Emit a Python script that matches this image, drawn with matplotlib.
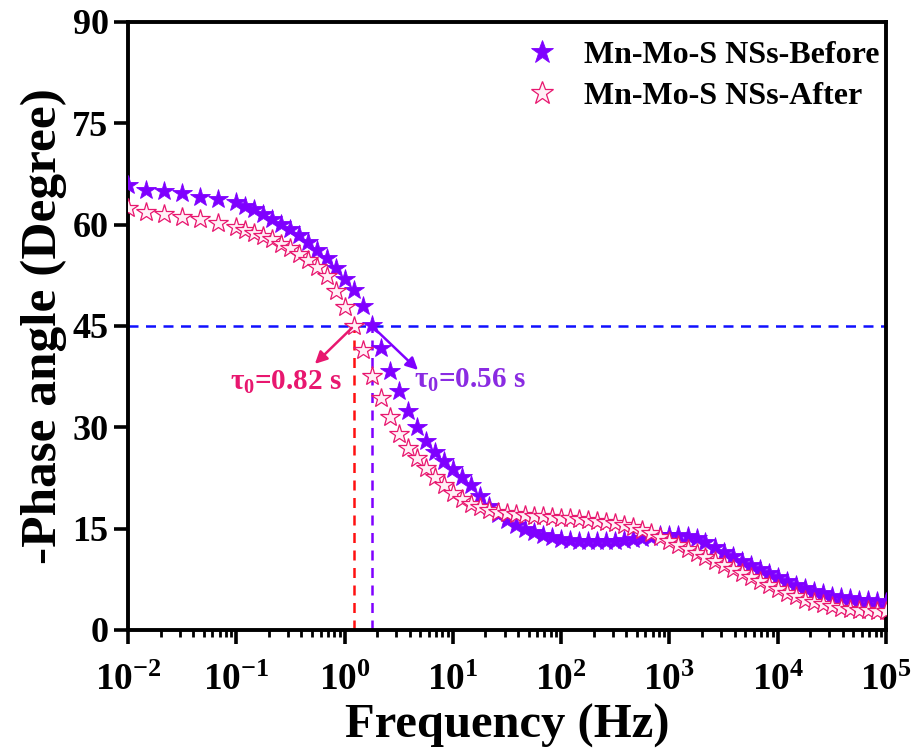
import matplotlib
matplotlib.use('Agg')
import matplotlib.pyplot as plt
from matplotlib.ticker import LogLocator, FixedLocator, NullFormatter

plt.rcParams['font.family'] = ['Liberation Serif', 'DejaVu Serif']
plt.rcParams['font.weight'] = 'bold'
plt.rcParams['mathtext.fontset'] = 'custom'
plt.rcParams['mathtext.rm'] = 'Liberation Serif:bold'
plt.rcParams['mathtext.it'] = 'Liberation Serif:bold'
plt.rcParams['mathtext.bf'] = 'Liberation Serif:bold'

# measured frequencies (Hz)
freq = [
	0.01, 0.0147, 0.0215, 0.0316, 0.0464, 0.0681,
	0.1, 0.121, 0.147, 0.178, 0.215, 0.261, 0.316, 0.383, 0.464, 0.562, 0.681, 0.825,
	1.0, 1.21, 1.47, 1.78, 2.15, 2.61, 3.16, 3.83, 4.64, 5.62, 6.81, 8.25,
	10, 12.1, 14.7, 17.8, 21.5, 26.1, 31.6, 38.3, 46.4, 56.2, 68.1, 82.5,
	100, 121, 147, 178, 215, 261, 316, 383, 464, 562, 681, 825,
	1000, 1210, 1470, 1780, 2150, 2610, 3160, 3830, 4640, 5620, 6810, 8250,
	10000, 12100, 14700, 17800, 21500, 26100, 31600, 38300, 46400, 56200, 68100, 82500,
	100000,
]

# -phase angle (degree)
before = [
	65.9, 65.1, 65.0, 64.7, 64.1, 63.8,
	63.3, 62.8, 62.3, 61.6, 60.9, 60.1, 59.3, 58.4, 57.4, 56.3, 55.0, 53.6,
	52.0, 50.3, 48.0, 45.2, 41.8, 38.4, 35.3, 32.4, 30.0, 28.0, 26.4, 25.0,
	23.8, 22.7, 21.5, 19.8, 18.4, 17.2, 16.3, 15.6, 15.0, 14.5, 14.1, 13.8,
	13.5, 13.3, 13.2, 13.1, 13.1, 13.1, 13.2, 13.3, 13.4, 13.6, 13.8, 14.0,
	14.0, 14.0, 13.9, 13.6, 13.0, 12.3, 11.6, 10.9, 10.2, 9.6, 9.0, 8.4,
	7.8, 7.2, 6.7, 6.2, 5.8, 5.4, 5.1, 4.9, 4.7, 4.5, 4.4, 4.3,
	4.2,
]
after = [
	62.4, 61.9, 61.6, 61.2, 60.8, 60.2,
	59.6, 59.2, 58.8, 58.3, 57.8, 57.2, 56.5, 55.7, 54.8, 53.8, 52.4, 50.2,
	47.8, 45.0, 41.5, 37.6, 34.3, 31.5, 29.0, 27.0, 25.4, 24.0, 22.7, 21.5,
	20.3, 19.4, 18.7, 18.2, 17.8, 17.5, 17.3, 17.1, 17.0, 16.9, 16.8, 16.7,
	16.6, 16.5, 16.4, 16.3, 16.2, 16.0, 15.8, 15.5, 15.2, 14.8, 14.3, 13.8,
	13.2, 12.6, 12.0, 11.4, 10.8, 10.2, 9.6, 9.0, 8.4, 7.8, 7.2, 6.6,
	6.0, 5.5, 5.0, 4.5, 4.1, 3.8, 3.5, 3.3, 3.1, 3.0, 2.9, 2.8,
	2.8,
]

x_ticks = [1e-2, 1e-1, 1e0, 1e1, 1e2, 1e3, 1e4, 1e5]
y_ticks = [0, 15, 30, 45, 60, 75, 90]

tau_before = 0.56
tau_after = 0.82

purple = '#7f00ff'
pink = '#e8176f'

fig = plt.figure(figsize=(9.17, 7.54), dpi=100)
ax = fig.add_axes([0.1396, 0.1645, 0.8266, 0.8064])

ax.axhline(45, color='#1010ff', lw=1.8, ls=(0, (4, 3)), zorder=1)
ax.vlines(1 / tau_after, 0, 45, color='#ff1010', lw=1.8, linestyles=(0, (4, 3)), zorder=1)
ax.vlines(1 / tau_before, 0, 45, color=purple, lw=1.8, linestyles=(0, (4, 3)), zorder=1)

ax.plot(freq, before, ls='none', marker='*', ms=15, color=purple, mec=purple, mew=0.6,
	label='Mn-Mo-S NSs-Before', zorder=3)
ax.plot(freq, after, ls='none', marker='*', ms=15, mfc='#fff0f6', mec=pink, mew=0.9,
	label='Mn-Mo-S NSs-After', zorder=4)

ax.annotate('', xy=(0.51, 39.1), xytext=(1 / tau_after, 45),
	arrowprops=dict(arrowstyle='-|>', color=pink, lw=1.8, mutation_scale=18), zorder=5)
ax.annotate('', xy=(4.97, 38.2), xytext=(1 / tau_before, 45),
	arrowprops=dict(arrowstyle='-|>', color=purple, lw=1.8, mutation_scale=18), zorder=5)
ax.text(0.29, 36.6, r'$\tau_0$=0.82 s', color=pink, fontsize=21, ha='center', va='center')
ax.text(14.5, 36.9, r'$\tau_0$=0.56 s', color='#8a2be2', fontsize=21, ha='center', va='center')

ax.set_xscale('log')
ax.set_xlim(1e-2, 1e5)
ax.set_ylim(0, 90)
ax.yaxis.set_major_locator(FixedLocator(y_ticks))
ax.xaxis.set_major_locator(FixedLocator(x_ticks))
ax.xaxis.set_minor_locator(LogLocator(base=10, subs=range(2, 10), numticks=100))
ax.xaxis.set_minor_formatter(NullFormatter())

for sp in ax.spines.values():
	sp.set_linewidth(2.8)
ax.tick_params(which='major', direction='out', length=10, width=2.6, top=False, right=False)
ax.tick_params(which='minor', direction='out', length=5, width=2.0, top=False, right=False)
ax.tick_params(axis='y', labelsize=26, pad=4)
ax.tick_params(axis='x', labelsize=27, pad=14)

ax.set_xlabel('Frequency (Hz)', fontsize=35, fontweight='bold', labelpad=4)
ax.set_ylabel('-Phase angle (Degree)', fontsize=37, fontweight='bold', labelpad=4)

ax.legend(loc='upper right', bbox_to_anchor=(1.017, 1.0), frameon=False, fontsize=23,
	markerscale=1.15, handlelength=1.2, handletextpad=0.72, labelspacing=0.35,
	borderaxespad=0.2)

fig.savefig('out.png', dpi=100)
